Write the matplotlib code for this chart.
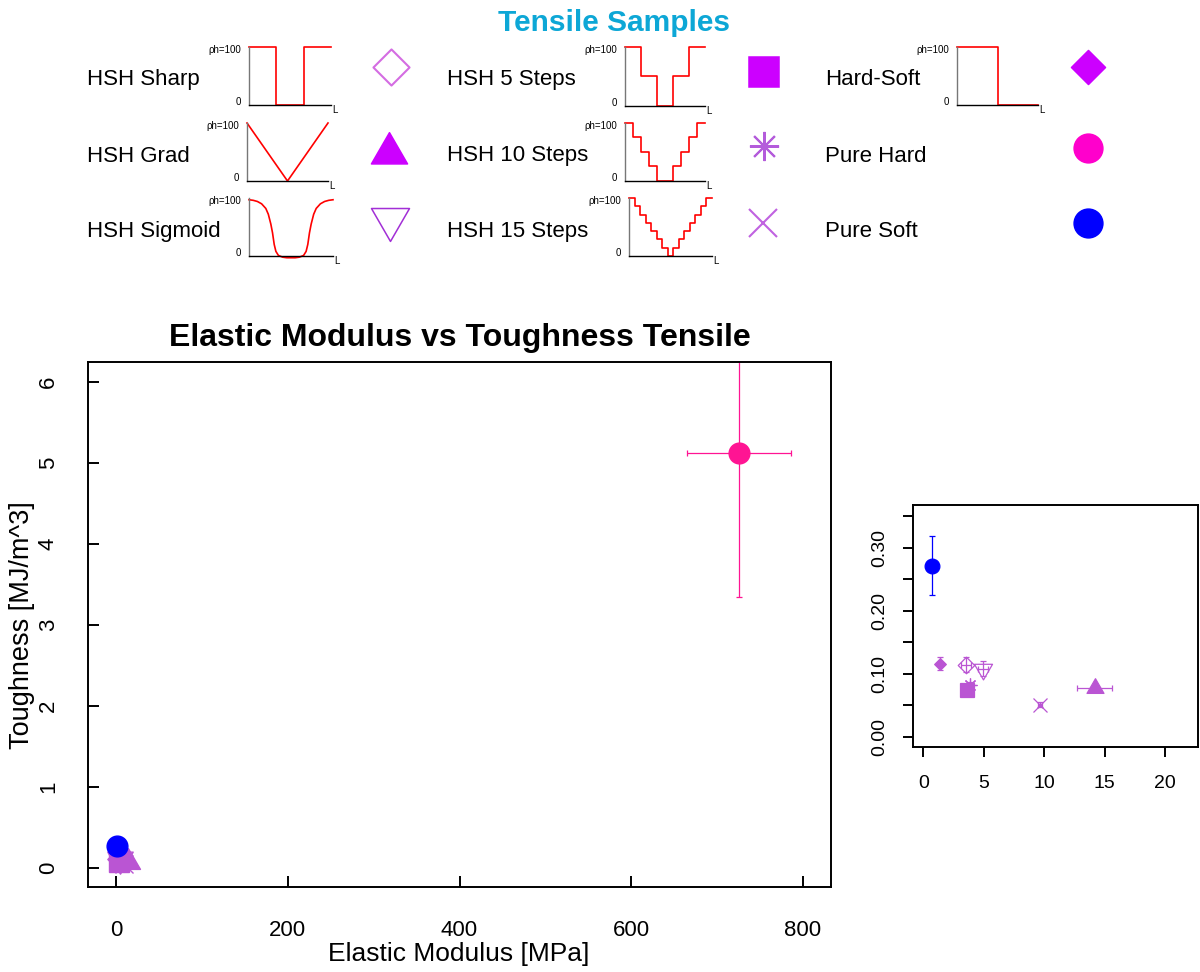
import matplotlib
matplotlib.use("Agg")
import numpy as np
import matplotlib.pyplot as plt
from matplotlib.path import Path

plt.rcParams["font.family"] = ["Liberation Sans", "DejaVu Sans"]

W, H = 1200, 972

# sample data
names = ["HSH Sharp", "HSH Grad", "HSH Sigmoid", "HSH 5 Steps", "HSH 10 Steps",
         "HSH 15 Steps", "Hard-Soft", "Pure Hard", "Pure Soft"]
modulus = [3.53, 14.2, 4.92, 3.59, 3.87, 9.66, 1.38, 725.8, 0.70]
modulus_err = [0.45, 1.46, 0.40, 0.10, 0.20, 0.15, 0.10, 60.5, 0.05]
toughness = [0.114, 0.077, 0.108, 0.0745, 0.0825, 0.0506, 0.116, 5.12, 0.271]
toughness_err = [0.012, 0.004, 0.012, 0.005, 0.005, 0.004, 0.010, 1.77, 0.047]
plot_colors = ["#BA55D3"] * 7 + ["#FF1493", "#0000FF"]
legend_colors = ["#D46CE2", "#CC00FF", "#A22FD6", "#CC00FF", "#B45CDB",
                 "#C062E0", "#CC00FF", "#FF00CC", "#0000FF"]

# hardness profiles shown in the legend (rho_h along length L)
step_profiles = {
    "HSH Sharp": [100, 0, 100],
    "HSH 5 Steps": [100, 50, 0, 50, 100],
    "HSH 10 Steps": [100, 75, 50, 25, 0, 0, 25, 50, 75, 100],
    "HSH 15 Steps": [100, 86, 71, 57, 43, 29, 14, 0, 14, 29, 43, 57, 71, 86, 100],
    "Hard-Soft": [100, 0],
}
grad_x = [0, 0.5, 1]
grad_y = [100, 0, 100]
sigmoid_x = [0, 0.05, 0.1, 0.15, 0.2, 0.23, 0.26, 0.28, 0.3, 0.32, 0.35, 0.4, 0.45,
             0.5, 0.55, 0.6, 0.65, 0.68, 0.7, 0.72, 0.74, 0.77, 0.8, 0.85, 0.9, 0.95, 1.0]
sigmoid_y = [97, 96, 94, 90, 82, 72, 55, 40, 20, 8, 1, -2, -3, -3, -3, -2, 1, 8, 20,
             40, 55, 72, 82, 90, 94, 96, 97]

# marker shapes (R pch lookalikes)
diamond = Path([(0, 1), (1, 0), (0, -1), (-1, 0), (0, 1)], closed=True)
tri_up = Path([(0, 1.555), (1.347, -0.778), (-1.347, -0.778), (0, 1.555)], closed=True)
tri_down = Path([(0, -1.555), (1.347, 0.778), (-1.347, 0.778), (0, -1.555)], closed=True)
markers = [diamond, tri_up, tri_down, "s", (8, 2, 0), "x", diamond, "o", "o"]
filled = [False, True, False, True, False, False, True, True, True]
inset_sizes = [11.9, 14.1, 15, 10, 10, 9.6, 8.4, 10.6, 10.6]
legend_sizes = [26, 30, 31.6, 21, 21, 20, 24.5, 20.7, 20.7]


def px_axes(fig, left, top, right, bottom):
    return fig.add_axes([left / W, 1 - bottom / H, (right - left) / W, (bottom - top) / H])


def draw_points(ax, scale, lw):
    for i in range(len(names)):
        c = plot_colors[i]
        ax.errorbar(modulus[i], toughness[i], xerr=modulus_err[i], yerr=toughness_err[i],
                    fmt="none", ecolor=c, elinewidth=0.9, capsize=2, capthick=0.9, zorder=2)
        ax.plot(modulus[i], toughness[i], linestyle="none", marker=markers[i],
                markersize=inset_sizes[i] * scale, color=c, mec=c,
                mfc=c if filled[i] else "none", mew=lw, zorder=3)


fig = plt.figure(figsize=(12, 9.72), dpi=100)

# ---- legend block ----
lax = fig.add_axes([0, 0, 1, 1])
lax.set_xlim(0, W)
lax.set_ylim(H, 0)
lax.axis("off")
lax.patch.set_alpha(0)

fig.text(614 / W, 1 - 23 / H, "Tensile Samples", ha="center", va="center",
         fontsize=21.5, fontweight="bold", color="#0DA7D6")

label_pos = [(87, 85), (87, 161.5), (87, 237), (447, 85), (447, 161.5), (447, 237),
             (825, 85), (825, 161.5), (825, 237)]
marker_pos = [(391, 67), (389, 153), (390, 219), (764, 72), (764, 146), (763, 223),
              (1088, 67), (1088, 148), (1088, 223)]
for i, name in enumerate(names):
    lx, ly = label_pos[i]
    fig.text(lx / W, 1 - ly / H, name, ha="left", va="baseline", fontsize=16)
    mx, my = marker_pos[i]
    c = legend_colors[i]
    lax.plot(mx, my, linestyle="none", marker=markers[i], markersize=legend_sizes[i],
             color=c, mec=c, mfc=c if filled[i] else "none",
             mew=1.5 if i in (0, 4, 5) else 1.1)

profile_boxes = {
    "HSH Sharp": (249, 47, 331, 105),
    "HSH Grad": (247, 123, 328, 181),
    "HSH Sigmoid": (249, 198, 333, 256),
    "HSH 5 Steps": (625, 47, 705, 106),
    "HSH 10 Steps": (625, 123, 705, 181),
    "HSH 15 Steps": (629, 198, 712, 256),
    "Hard-Soft": (957, 47, 1038, 105),
}
for name, (l, t, r, b) in profile_boxes.items():
    pax = px_axes(fig, l, t, r, b)
    if name in step_profiles:
        levels = step_profiles[name]
        edges = np.linspace(0, 1, len(levels) + 1)
        pax.plot(edges, levels + [levels[-1]], drawstyle="steps-post",
                 color="red", lw=1.2, clip_on=False)
    elif name == "HSH Grad":
        pax.plot(grad_x, grad_y, color="red", lw=1.2, clip_on=False)
    else:
        pax.plot(sigmoid_x, sigmoid_y, color="red", lw=1.2, clip_on=False)
    pax.set_xlim(0, 1)
    pax.set_ylim(0, 100)
    pax.set_xticks([])
    pax.set_yticks([])
    pax.patch.set_alpha(0)
    for s in ("top", "right"):
        pax.spines[s].set_visible(False)
    pax.spines["left"].set_color("#777777")
    pax.spines["left"].set_linewidth(1.0)
    pax.spines["bottom"].set_color("black")
    pax.spines["bottom"].set_linewidth(1.0)
    fig.text((l - 8) / W, 1 - (t + 3) / H, "ρh=100", ha="right", va="center", fontsize=7)
    fig.text((l - 8) / W, 1 - (b - 3) / H, "0", ha="right", va="center", fontsize=7)
    fig.text((r + 1) / W, 1 - (b + 5) / H, "L", ha="left", va="center", fontsize=7)

# ---- main plot ----
ax = px_axes(fig, 88, 362, 831, 887)
draw_points(ax, 1.41, 1.0)
ax.set_xlim(-32.6, 832.6)
ax.set_ylim(-0.2346, 6.247)
ax.set_xticks([0, 200, 400, 600, 800])
ax.set_yticks([0, 1, 2, 3, 4, 5, 6])
ax.tick_params(direction="in", length=8, width=1.4, labelsize=16)
ax.tick_params(axis="x", pad=24)
ax.tick_params(axis="y", pad=21, labelrotation=90)
for lab in ax.get_yticklabels():
    lab.set_va("center")
for s in ax.spines.values():
    s.set_linewidth(1.4)
fig.text(459.5 / W, 1 - 338 / H, "Elastic Modulus vs Toughness Tensile",
         ha="center", va="center", fontsize=23, fontweight="bold")
fig.text(459 / W, 1 - 954 / H, "Elastic Modulus [MPa]", ha="center", va="center", fontsize=19)
fig.text(22 / W, 1 - 625 / H, "Toughness [MJ/m^3]", ha="center", va="center",
         rotation=90, fontsize=19.5)

# ---- zoomed inset ----
ax2 = px_axes(fig, 913, 505, 1198, 747)
draw_points(ax2, 1.0, 0.9)
ax2.set_xlim(-0.853, 22.74)
ax2.set_ylim(-0.0163, 0.3674)
ax2.set_xticks([0, 5, 10, 15, 20])
ax2.set_yticks([0, 0.05, 0.10, 0.15, 0.20, 0.25, 0.30, 0.35])
ax2.set_yticklabels(["0.00", "", "0.10", "", "0.20", "", "0.30", ""])
ax2.tick_params(direction="out", length=7, width=1.4, labelsize=14)
ax2.tick_params(axis="x", pad=13)
ax2.tick_params(axis="y", pad=11, labelrotation=90)
for lab in ax2.get_yticklabels():
    lab.set_va("center")
for s in ax2.spines.values():
    s.set_linewidth(1.4)

fig.savefig("out.png", dpi=100)
